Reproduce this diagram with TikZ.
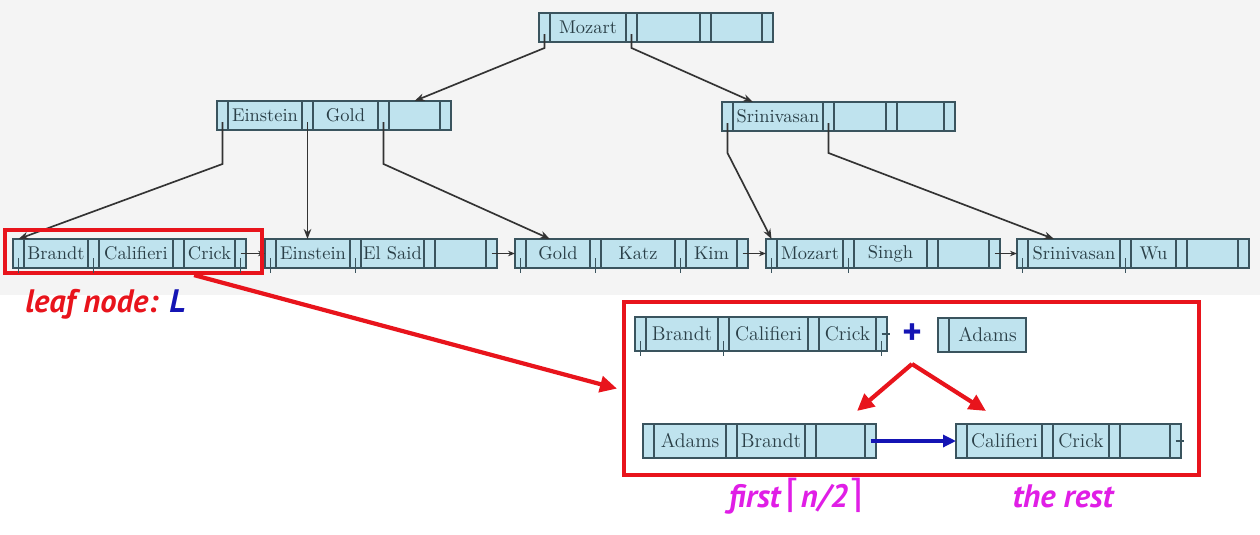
\documentclass[tikz,border=0pt]{standalone}
\usepackage{fontspec}
\newfontfamily\labelfont{PT Sans}
\newfontfamily\symfont{DejaVu Sans}
\usetikzlibrary{arrows.meta,positioning,fit}
\newdimen\pxu \pxu=0.02cm
\definecolor{cellfill}{HTML}{BFE3EE}
\definecolor{cellline}{HTML}{3A545E}
\definecolor{celltext}{HTML}{2A3F47}
\definecolor{hired}{HTML}{E8141C}
\definecolor{hiblue}{HTML}{1414B4}
\definecolor{himag}{HTML}{E01EE6}
\definecolor{topbg}{HTML}{F4F4F4}
% one B+-tree node: pointer cells p0..pn, key cells k1..kn
\newcommand{\bpnode}[4][]{%
  \node[ptr,#1,anchor=north west] (#2-p0) at (#3) {};
  \foreach \w/\t [count=\i,remember=\i as \j (initially 0)] in {#4}{
    \node[key,#1,minimum width=\w\pxu,right=0pt of #2-p\j] (#2-k\i) {\t};
    \node[ptr,#1,right=0pt of #2-k\i] (#2-p\i) {};
  }}
\newcommand{\ceilmark}[1]{{\symfont\upshape\mdseries\fontsize{22}{22}\selectfont #1}}
\begin{document}
\begin{tikzpicture}[x=0.02cm,y=-0.02cm,
 cell/.style={draw=cellline,fill=cellfill,line width=0.75pt,minimum height=29\pxu,inner sep=0pt,outer sep=0pt},
 key/.style={cell,text=celltext,font=\fontsize{10.5}{12}\selectfont},
 ptr/.style={cell,minimum width=11\pxu},
 tick/.style={cellline,line width=0.75pt},
 down/.style={-{Stealth[length=0.2cm,width=0.15cm]},line width=0.95pt,black!80},
 nextp/.style={-{Stealth[length=0.14cm,width=0.11cm]},line width=0.7pt,black!80},
 redbox/.style={draw=hired,line width=2.4pt},
 redarr/.style={-{Triangle[length=0.34cm,width=0.32cm]},hired,line width=2.4pt},
 bluearr/.style={-{Triangle[length=0.26cm,width=0.24cm]},hiblue,line width=1.8pt},
 lbl/.style={font=\labelfont\bfseries\itshape\fontsize{18.5}{22}\selectfont,inner sep=0pt},
 big/.style={minimum height=34\pxu,font=\fontsize{11.3}{13}\selectfont}]
\useasboundingbox (0,0) rectangle (1260,534);
\fill[topbg] (0,0) rectangle (1260,295);

% tree
\bpnode{root}{539,13}{76/Mozart,63/{},51/{}}
\bpnode{einst}{217,101}{74/Einstein,65/Gold,51/{}}
\bpnode{srin}{722,102}{90/Srinivasan,52/{},47/{}}
\bpnode{leafA}{13,239}{64/Brandt,74/Califieri,51/Crick}
\bpnode{leafB}{265,239}{74/Einstein,63/El Said,51/{}}
\bpnode{leafC}{515,239}{64/Gold,74/Katz,51/Kim}
\bpnode{leafD}{766,239}{66/Mozart,73/Singh,51/{}}
\bpnode{leafE}{1017,239}{92/Srinivasan,45/Wu,51/{}}

\draw[down] (root-p0.south) ++(0,-8) -- ++(0,14) -- (einst-k3.north);
\draw[down] (root-p1.south) ++(0,-8) -- ++(0,14) -- ([xshift=20\pxu]srin-k1.north west);
\draw[down] (einst-p0.south) ++(0,-8) -- ++(0,42) -- (leafA-p0.north);
\draw[down] (einst-p1.south) ++(0,-8) -- (einst-p1.south |- leafB-k1.north);
\draw[down] (einst-p2.south) ++(0,-8) -- ++(0,42) -- ([xshift=-8\pxu]leafC-k1.north);
\draw[down] (srin-p0.south) ++(0,-8) -- ++(0,30) -- (leafD-p0.north);
\draw[down] (srin-p1.south) ++(0,-8) -- ++(0,30) -- ([xshift=-20\pxu]leafE-k1.north);
\foreach \a/\b in {leafA/leafB,leafB/leafC,leafC/leafD,leafD/leafE}
  \draw[nextp] (\a-p3.center) -- (\b-p0.west);

% splitting the leaf
\node[redbox,fit=(leafA-p0)(leafA-p3),inner xsep=12\pxu,inner ysep=7\pxu,xshift=4\pxu,yshift=2\pxu] (leafsel) {};
\node[redbox,minimum width=575\pxu,minimum height=173\pxu,anchor=north west] (split) at (622,300) {};
\draw[redarr] ([xshift=-70\pxu]leafsel.south east) -- ([xshift=-5\pxu]split.west);

\bpnode[big]{splitA}{635,317}{72/Brandt,79/Califieri,57/Crick}
\node[ptr,big,anchor=north west] (new-p0) at (938,318) {};
\node[key,big,minimum width=77\pxu,right=0pt of new-p0] (new-k1) {Adams};
\node[text=hiblue,font=\labelfont\bfseries\fontsize{21}{21}\selectfont] (plus) at (912,334) {+};
\bpnode[big]{splitL}{643,424}{72/Adams,68/Brandt,49/{}}
\bpnode[big]{splitR}{956,424}{75/Califieri,56/Crick,50/{}}

\foreach \p in {leafA-p0,leafA-p1,leafA-p3,leafB-p0,leafB-p1,leafC-p0,leafC-p1,leafC-p2,leafD-p0,leafD-p1,leafE-p0,leafE-p1,splitA-p0,splitA-p1,splitA-p3}
  \draw[tick] (\p.south) ++(0,-10) -- ++(0,15);
\draw[tick] (splitA-p3.center) -- ++(8,0);
\draw[tick] (splitR-p3.center) -- ++(8,0);

\coordinate (fork) at (912,364);
\coordinate (forkL) at (857,411);
\coordinate (forkR) at (986,411);
\draw[redarr] (fork) -- (forkL);
\draw[redarr] (fork) -- (forkR);
\draw[bluearr] (splitL-p3.center) -- (splitR-p0.west);

% labels
\node[lbl,text=hired,anchor=base west] (leaflbl) at (25,312) {leaf node: \textcolor{hiblue}{L}};
\node[lbl,text=himag,anchor=base] (firstlbl) at (796,507) {first\,\ceilmark{⌈}n/2\ceilmark{⌉}};
\node[lbl,text=himag,anchor=base] (restlbl) at (1063,507) {the rest};
\end{tikzpicture}
\end{document}
